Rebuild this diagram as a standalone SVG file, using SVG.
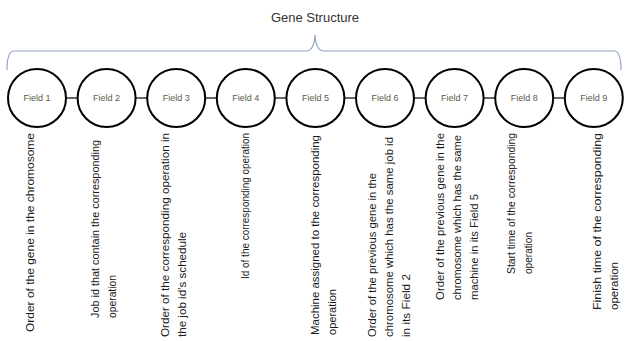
<svg xmlns="http://www.w3.org/2000/svg" width="625" height="341" viewBox="0 0 625 341">
<style>
.title{font-family:"Liberation Sans",Arial,sans-serif;font-size:13px;fill:#333;text-anchor:middle}
.node circle{fill:#fff;stroke:#000;stroke-width:2}
.lbl{font-family:"Liberation Sans",Arial,sans-serif;font-size:9px;fill:#5b5b4b;text-anchor:middle}
.desc{font-family:"Liberation Sans",Arial,sans-serif;font-size:11.5px;fill:#1a1a1a}
.sm{font-size:10.8px}
.conn line{stroke:#000;stroke-width:1.2}
.brace{fill:none;stroke:#8ea3c8;stroke-width:1.2}
</style>
<rect width="625" height="341" fill="#fff"/>
<text class="title" x="315" y="22">Gene Structure</text>
<path class="brace" d="M7,70 Q7,51 14,51 L306,51 Q314,51 315,35 Q316,51 324,51 L614,51 Q621,51 621,70"/>
<g class="conn">
<line x1="66" y1="98" x2="77.6" y2="98"/>
<line x1="135.6" y1="98" x2="147.2" y2="98"/>
<line x1="205.2" y1="98" x2="216.8" y2="98"/>
<line x1="274.8" y1="98" x2="286.4" y2="98"/>
<line x1="344.4" y1="98" x2="356" y2="98"/>
<line x1="414" y1="98" x2="425.6" y2="98"/>
<line x1="483.6" y1="98" x2="495.2" y2="98"/>
<line x1="553.2" y1="98" x2="564.8" y2="98"/>
</g>
<g id="field1" class="node"><circle cx="37" cy="98" r="29"/><text class="lbl" x="37" y="101">Field 1</text>
<text class="desc" transform="translate(34,332) rotate(-90)" textLength="199" lengthAdjust="spacingAndGlyphs">Order of the gene in the chromosome</text></g>
<g id="field2" class="node"><circle cx="106.6" cy="98" r="29"/><text class="lbl" x="106.6" y="101">Field 2</text>
<text class="desc" transform="translate(99,318) rotate(-90)"><tspan x="0" y="0" textLength="178" lengthAdjust="spacingAndGlyphs">Job id that contain the  corresponding</tspan><tspan x="0" y="17" textLength="43" lengthAdjust="spacingAndGlyphs">operation</tspan></text></g>
<g id="field3" class="node"><circle cx="176.2" cy="98" r="29"/><text class="lbl" x="176.2" y="101">Field 3</text>
<text class="desc" transform="translate(169,337) rotate(-90)"><tspan x="0" y="0" textLength="204" lengthAdjust="spacingAndGlyphs">Order of the corresponding operation in</tspan><tspan x="0" y="17" textLength="105" lengthAdjust="spacingAndGlyphs">the job id’s schedule</tspan></text></g>
<g id="field4" class="node"><circle cx="245.8" cy="98" r="29"/><text class="lbl" x="245.8" y="101">Field 4</text>
<text class="desc sm" transform="translate(249,279) rotate(-90)" textLength="146" lengthAdjust="spacingAndGlyphs">Id of the corresponding operation</text></g>
<g id="field5" class="node"><circle cx="315.4" cy="98" r="29"/><text class="lbl" x="315.4" y="101">Field 5</text>
<text class="desc" transform="translate(319,335) rotate(-90)"><tspan x="0" y="0" textLength="200" lengthAdjust="spacingAndGlyphs">Machine assigned to  the corresponding</tspan><tspan x="0" y="17" textLength="46" lengthAdjust="spacingAndGlyphs">operation</tspan></text></g>
<g id="field6" class="node"><circle cx="385" cy="98" r="29"/><text class="lbl" x="385" y="101">Field 6</text>
<text class="desc" transform="translate(376,337) rotate(-90)"><tspan x="0" y="0" textLength="164" lengthAdjust="spacingAndGlyphs">Order of  the previous gene in the</tspan><tspan x="0" y="17" textLength="200" lengthAdjust="spacingAndGlyphs">chromosome which has the same job id</tspan><tspan x="0" y="34" textLength="63" lengthAdjust="spacingAndGlyphs">in its Field 2</tspan></text></g>
<g id="field7" class="node"><circle cx="454.6" cy="98" r="29"/><text class="lbl" x="454.6" y="101">Field 7</text>
<text class="desc" transform="translate(444,300) rotate(-90)"><tspan x="0" y="0" textLength="167" lengthAdjust="spacingAndGlyphs">Order of  the previous gene in the</tspan><tspan x="0" y="17" textLength="165" lengthAdjust="spacingAndGlyphs">chromosome which has the same</tspan><tspan x="0" y="34" textLength="106" lengthAdjust="spacingAndGlyphs">machine in its Field 5</tspan></text></g>
<g id="field8" class="node"><circle cx="524.2" cy="98" r="29"/><text class="lbl" x="524.2" y="101">Field 8</text>
<text class="desc sm" transform="translate(515,274) rotate(-90)"><tspan x="0" y="0" textLength="141" lengthAdjust="spacingAndGlyphs">Start  time of the corresponding</tspan><tspan x="0" y="17" textLength="42" lengthAdjust="spacingAndGlyphs">operation</tspan></text></g>
<g id="field9" class="node"><circle cx="593.8" cy="98" r="29"/><text class="lbl" x="593.8" y="101">Field 9</text>
<text class="desc" transform="translate(601,310) rotate(-90)"><tspan x="0" y="0" textLength="177" lengthAdjust="spacingAndGlyphs">Finish  time of the corresponding</tspan><tspan x="0" y="17" textLength="48" lengthAdjust="spacingAndGlyphs">operation</tspan></text></g>
</svg>
